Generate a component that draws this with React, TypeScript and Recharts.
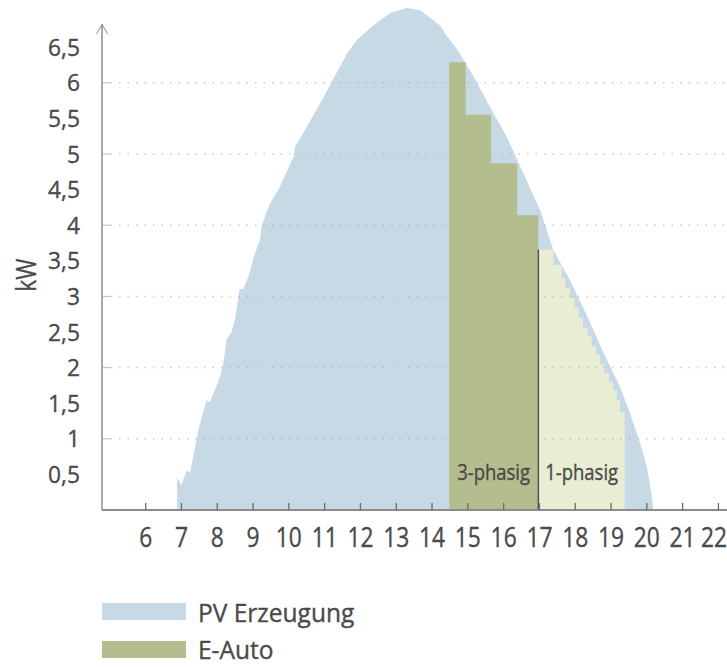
import {
  ComposedChart,
  Area,
  XAxis,
  YAxis,
  ReferenceLine,
  ReferenceDot,
  Label,
} from "recharts";

const FONT = "'Open Sans', 'Noto Sans', sans-serif";
const TEXT = "#4a4a4a";
const AXIS = "#8c8c8c";

const xTicks = [6, 7, 8, 9, 10, 11, 12, 13, 14, 15, 16, 17, 18, 19, 20, 21, 22];
const yTicks = [0.5, 1, 1.5, 2, 2.5, 3, 3.5, 4, 4.5, 5, 5.5, 6, 6.5];
const gridValues = [1, 2, 3, 4, 5, 6];

// PV Erzeugung (hour, kW)
const pvHours = [
  6.88, 6.88, 7.0, 7.15, 7.24, 7.47, 7.7, 7.8, 8.08, 8.17, 8.26, 8.4, 8.49, 8.63,
  8.72, 8.87, 9.05, 9.19, 9.24, 9.47, 9.75, 10.13, 10.17, 10.5, 10.97, 11.43,
  11.62, 11.9, 12.36, 12.83, 13.3, 13.67, 14.04, 14.23, 14.41, 14.7, 15.16, 15.62,
  16.09, 16.55, 17.02, 17.39, 17.85, 18.32, 18.78, 19.25, 19.53, 19.81, 20.0,
  20.13, 20.18,
];
const pvKw = [
  0, 0.45, 0.35, 0.56, 0.52, 1.12, 1.54, 1.52, 1.87, 2.06, 2.39, 2.5, 2.67, 3.11,
  3.1, 3.28, 3.6, 3.79, 4.0, 4.3, 4.54, 4.96, 5.1, 5.38, 5.8, 6.23, 6.41, 6.6,
  6.81, 6.98, 7.05, 7.02, 6.88, 6.8, 6.66, 6.47, 6.09, 5.66, 5.24, 4.73, 4.21,
  3.65, 3.23, 2.74, 2.22, 1.73, 1.36, 0.94, 0.61, 0.23, 0,
];

// E-Auto 3-phasig
const dreiHours = [14.48, 14.94, 15.65, 16.38, 16.97];
const dreiKw = [6.29, 5.55, 4.87, 4.14, 4.14];

// E-Auto 1-phasig
const einHours = [
  16.97, 17.39, 17.62, 17.72, 17.86, 17.98, 18.1, 18.22, 18.34, 18.46, 18.58,
  18.7, 18.82, 18.94, 19.06, 19.16, 19.25, 19.38,
];
const einKw = [
  3.66, 3.44, 3.26, 3.12, 2.98, 2.84, 2.7, 2.56, 2.44, 2.3, 2.18, 2.04, 1.92,
  1.8, 1.68, 1.55, 1.38, 1.38,
];

const phaseLabels = [
  { text: "3-phasig", h: 15.72 },
  { text: "1-phasig", h: 18.18 },
];

const legendItems = [
  { name: "PV Erzeugung", color: "#c6d9e5" },
  { name: "E-Auto", color: "#b4bd8d" },
];

const pvData = pvHours.map((h, i) => ({ h, kw: pvKw[i] }));
const dreiData = dreiHours.map((h, i) => ({ h, kw: dreiKw[i] }));
const einData = einHours.map((h, i) => ({ h, kw: einKw[i] }));

const X_MIN = 4.78;
const X_MAX = 22.24;
const Y_TOP = 6.82;

// narrow text: the original uses a condensed face
const CText = ({ x, y, size, sx, anchor, rotate, children }: any) => (
  <text
    transform={`translate(${x}, ${y})${rotate ? ` rotate(${rotate})` : ""} scale(${sx}, 1)`}
    textAnchor={anchor}
    fontSize={size}
    fontFamily={FONT}
    fill={TEXT}
    stroke={TEXT}
    strokeWidth={0.35}
  >
    {children}
  </text>
);

const XTick = ({ x, y, payload }: any) => (
  <g>
    <line x1={x} x2={x} y1={y} y2={y - 7} stroke="#6a6a6a" strokeWidth={1.3} />
    <CText x={Math.min(x, 714)} y={y + 37} size={26.5} sx={0.86} anchor="middle">
      {payload.value}
    </CText>
  </g>
);

const YTick = ({ x, y, payload }: any) => (
  <g>
    {Number.isInteger(payload.value) && (
      <line x1={x} x2={x + 8} y1={y} y2={y} stroke="#b8b8b8" strokeWidth={1} />
    )}
    <CText x={x - 22} y={y + 8.5} size={24} sx={0.95} anchor="end">
      {String(payload.value).replace(".", ",")}
    </CText>
  </g>
);

const App = () => {
  return (
    <div style={{ position: "absolute", left: 0, top: 0, width: 727, height: 667, background: "#fff" }}>
      <ComposedChart
        width={727}
        height={580}
        margin={{ top: 4.5, right: 0, left: 0, bottom: 20 }}
      >
        <XAxis
          dataKey="h"
          type="number"
          domain={[X_MIN, X_MAX]}
          ticks={xTicks}
          allowDataOverflow
          height={50}
          tickSize={0}
          tickMargin={0}
          tickLine={false}
          axisLine={{ stroke: AXIS, strokeWidth: 2 }}
          tick={<XTick />}
        />
        <YAxis
          type="number"
          domain={[0, 7.1]}
          ticks={yTicks}
          width={102}
          allowDataOverflow
          axisLine={false}
          tickLine={false}
          tickSize={0}
          tickMargin={0}
          tick={<YTick />}
        >
          <Label
            content={({ viewBox }: any) => (
              <CText
                x={viewBox.x + 36}
                y={viewBox.y + viewBox.height / 2 + 18}
                size={27}
                sx={0.85}
                rotate={-90}
                anchor="middle"
              >
                kW
              </CText>
            )}
          />
        </YAxis>
        <Area
          data={pvData}
          dataKey="kw"
          type="linear"
          fill="#c6d9e5"
          fillOpacity={1}
          stroke="none"
          isAnimationActive={false}
        />
        <Area
          data={dreiData}
          dataKey="kw"
          type="stepAfter"
          fill="#b4bd8d"
          fillOpacity={1}
          stroke="none"
          isAnimationActive={false}
        />
        <Area
          data={einData}
          dataKey="kw"
          type="stepAfter"
          fill="#e8edd3"
          fillOpacity={1}
          stroke="none"
          isAnimationActive={false}
        />
        {gridValues.map((v) => (
          <ReferenceLine
            key={v}
            y={v}
            stroke="#a8a8a8"
            strokeOpacity={0.6}
            strokeWidth={1.5}
            strokeDasharray="1.5 7"
          />
        ))}
        <ReferenceLine
          segment={[
            { x: dreiHours[dreiHours.length - 1], y: 0 },
            { x: dreiHours[dreiHours.length - 1], y: einKw[0] },
          ]}
          stroke="#555"
          strokeWidth={1.5}
        />
        <ReferenceLine
          segment={[
            { x: X_MIN, y: 0 },
            { x: X_MIN, y: Y_TOP },
          ]}
          stroke={AXIS}
          strokeWidth={1.5}
        />
        <ReferenceDot
          x={X_MIN}
          y={Y_TOP}
          r={0}
          shape={({ cx, cy }: any) => (
            <path
              d={`M${cx - 5.5},${cy + 9.5} L${cx},${cy} L${cx + 5.5},${cy + 9.5}`}
              fill="none"
              stroke={AXIS}
              strokeWidth={1}
            />
          )}
        />
        {phaseLabels.map((l) => (
          <ReferenceDot
            key={l.text}
            x={l.h}
            y={0.42}
            r={0}
            shape={({ cx, cy }: any) => (
              <CText x={cx} y={cy} size={21.5} sx={0.86} anchor="middle">
                {l.text}
              </CText>
            )}
          />
        ))}
      </ComposedChart>
      <div style={{ position: "absolute", left: 102, top: 593, fontFamily: FONT, color: TEXT }}>
        {legendItems.map((item) => (
          <div
            key={item.name}
            style={{ display: "flex", alignItems: "center", height: 37.5, fontSize: 25, lineHeight: "20px" }}
          >
            <span
              style={{ display: "inline-block", width: 84, height: 17, background: item.color, marginRight: 12 }}
            />
            <span
              style={{
                display: "inline-block",
                transform: "scaleX(0.98)",
                transformOrigin: "left center",
                WebkitTextStroke: "0.35px #4a4a4a",
              }}
            >
              {item.name}
            </span>
          </div>
        ))}
      </div>
    </div>
  );
};

export default App;
